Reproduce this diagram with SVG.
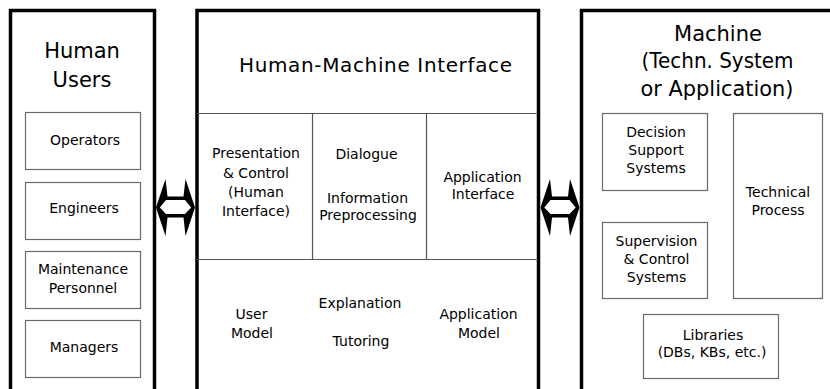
<svg xmlns="http://www.w3.org/2000/svg" width="830" height="389" viewBox="0 0 830 389">
  <style>
    .frame { fill: #fff; stroke: #000; stroke-width: 3.5; }
    .cell { fill: none; stroke: #555; stroke-width: 1.2; }
    .box { fill: #fff; stroke: #6a6a6a; stroke-width: 1.2; }
    .arrow { fill: #000; fill-rule: evenodd; stroke: none; }
    text { font-family: "DejaVu Sans", "Liberation Sans", sans-serif; fill: #000; text-anchor: middle; }
    .big { font-size: 21px; }
    .title { font-size: 20px; }
    .sm { font-size: 14px; }
  </style>
  <defs>
    <!-- hollow two-headed arrow with spiked barbs, 39 wide -->
    <path id="dbl-arrow" d="M0,29.5 L9.5,1 L11.5,18.5 L27.5,18.5 L29.5,1 L39,29.5 L29.5,58 L27.5,39.5 L11.5,39.5 L9.5,58 Z
             M3.8,29.5 L10,22 L29,22 L35.2,29.5 L29,36 L10,36 Z"/>
  </defs>
  <rect width="830" height="389" fill="#fff"/>

  <!-- Human users column -->
  <g id="human-users">
    <rect class="frame" x="10.5" y="10.5" width="144" height="400"/>
    <text class="big" x="82" y="58">Human</text>
    <text class="big" x="82" y="87">Users</text>
  </g>
  <g id="operators">
    <rect class="box" x="25.5" y="112.5" width="115" height="57"/>
    <text class="sm" x="85" y="145">Operators</text>
  </g>
  <g id="engineers">
    <rect class="box" x="25.5" y="182.5" width="115" height="57"/>
    <text class="sm" x="84" y="213">Engineers</text>
  </g>
  <g id="maintenance">
    <rect class="box" x="25.5" y="251.5" width="115" height="57"/>
    <text class="sm" x="83" y="274">Maintenance</text>
    <text class="sm" x="83" y="293">Personnel</text>
  </g>
  <g id="managers">
    <rect class="box" x="25.5" y="320.5" width="115" height="57"/>
    <text class="sm" x="84" y="352">Managers</text>
  </g>

  <!-- Human-machine interface column -->
  <g id="hmi">
    <rect class="frame" x="197" y="10.5" width="341.5" height="400"/>
    <line class="cell" x1="197" y1="113.5" x2="538" y2="113.5"/>
    <line class="cell" x1="197" y1="259.5" x2="538" y2="259.5"/>
    <line class="cell" x1="312.5" y1="113.5" x2="312.5" y2="259.5"/>
    <line class="cell" x1="426.5" y1="113.5" x2="426.5" y2="259.5"/>
    <text class="title" x="375.5" y="72" textLength="273" lengthAdjust="spacing">Human-Machine Interface</text>
  </g>
  <g id="presentation">
    <text class="sm" x="256" y="158">Presentation</text>
    <text class="sm" x="256" y="177.5">&amp; Control</text>
    <text class="sm" x="256" y="197">(Human</text>
    <text class="sm" x="256" y="216">Interface)</text>
  </g>
  <g id="dialogue">
    <text class="sm" x="366.5" y="159">Dialogue</text>
    <text class="sm" x="367.5" y="203">Information</text>
    <text class="sm" x="368" y="220">Preprocessing</text>
  </g>
  <g id="app-interface">
    <text class="sm" x="482.5" y="182">Application</text>
    <text class="sm" x="483" y="199">Interface</text>
  </g>
  <g id="user-model">
    <text class="sm" x="251.5" y="319">User</text>
    <text class="sm" x="252" y="338">Model</text>
  </g>
  <g id="explanation">
    <text class="sm" x="360" y="308">Explanation</text>
    <text class="sm" x="361" y="346">Tutoring</text>
  </g>
  <g id="app-model">
    <text class="sm" x="478.5" y="319">Application</text>
    <text class="sm" x="479" y="338">Model</text>
  </g>

  <!-- Machine column -->
  <g id="machine">
    <rect class="frame" x="581.5" y="10.5" width="300" height="400"/>
    <text class="big" x="718" y="41">Machine</text>
    <text class="big" x="717.5" y="68" textLength="152" lengthAdjust="spacingAndGlyphs">(Techn. System</text>
    <text class="big" x="717" y="96" textLength="153" lengthAdjust="spacingAndGlyphs">or Application)</text>
  </g>
  <g id="decision-support">
    <rect class="box" x="602.5" y="113.5" width="105" height="77"/>
    <text class="sm" x="656" y="137">Decision</text>
    <text class="sm" x="656" y="155">Support</text>
    <text class="sm" x="656" y="173">Systems</text>
  </g>
  <g id="technical-process">
    <rect class="box" x="733.5" y="113.5" width="89" height="185"/>
    <text class="sm" x="778" y="197">Technical</text>
    <text class="sm" x="778" y="215">Process</text>
  </g>
  <g id="supervision">
    <rect class="box" x="602.5" y="222.5" width="105" height="76"/>
    <text class="sm" x="656.5" y="246">Supervision</text>
    <text class="sm" x="656.5" y="264">&amp; Control</text>
    <text class="sm" x="656.5" y="282">Systems</text>
  </g>
  <g id="libraries">
    <rect class="box" x="643.5" y="314.5" width="135" height="64"/>
    <text class="sm" x="713" y="340">Libraries</text>
    <text class="sm" x="712" y="357">(DBs, KBs, etc.)</text>
  </g>

  <!-- Two-way links between the columns -->
  <g id="connectors">
    <use href="#dbl-arrow" class="arrow" x="156" y="178"/>
    <use href="#dbl-arrow" class="arrow" x="540.5" y="178"/>
  </g>
</svg>
